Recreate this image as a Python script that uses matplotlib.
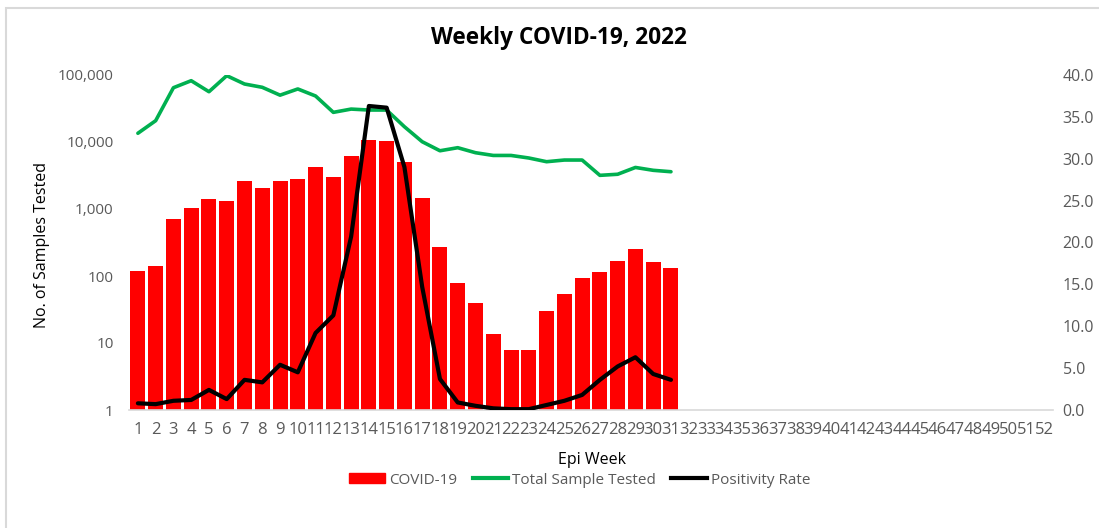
import matplotlib.pyplot as plt
import matplotlib.ticker as tck
from matplotlib.patches import Rectangle, Patch
from matplotlib.lines import Line2D

# Epi weeks shown on the axis (1..52), data only up to week 31
weeks = list(range(1, 53))
data_weeks = list(range(1, 32))

covid_cases = [120, 142, 710, 1035, 1410, 1315, 2590, 2090, 2590, 2800,
               4280, 3030, 6180, 10700, 10500, 4980, 1440, 274, 78, 39,
               13.6, 7.8, 7.8, 29.7, 53, 92, 116, 167, 256, 162, 130]

total_tested = [13500, 20800, 64600, 82200, 56300, 97700, 73400, 65500, 50000, 61900,
                48600, 27700, 31000, 30000, 30000, 16900, 10100, 7400, 8220, 6920,
                6300, 6300, 5770, 5080, 5380, 5380, 3180, 3300, 4170, 3780, 3600]

positivity = [0.8, 0.7, 1.1, 1.2, 2.4, 1.3, 3.6, 3.3, 5.4, 4.5,
              9.2, 11.3, 20.7, 36.3, 36.1, 29.0, 14.7, 3.7, 0.9, 0.5,
              0.2, 0.1, 0.1, 0.6, 1.1, 1.8, 3.6, 5.2, 6.3, 4.3, 3.6]

left_ticks = [1, 10, 100, 1000, 10000, 100000]
right_ticks = [0, 5, 10, 15, 20, 25, 30, 35, 40]

W, H = 1099, 528


def main():
    plt.rcParams['font.family'] = ['Open Sans', 'DejaVu Sans']
    grey = '#595959'

    fig = plt.figure(figsize=(W / 100, H / 100), dpi=100)
    ax = fig.add_axes([129 / W, (H - 410) / H, (1053 - 129) / W, (410 - 75) / H])

    # bars on log axis
    ax.bar(data_weeks, covid_cases, width=0.84, color='#FF0000', zorder=2)
    ax.plot(data_weeks, total_tested, color='#00B050', lw=2.6, zorder=3,
            solid_joinstyle='round', solid_capstyle='round')
    ax.set_yscale('log')
    ax.set_ylim(1, 100000)
    ax.set_xlim(0.5, 52.5)
    ax.set_yticks(left_ticks)
    ax.yaxis.set_major_formatter(tck.FuncFormatter(lambda v, p: '{:,.0f}'.format(v)))
    ax.yaxis.set_minor_locator(tck.NullLocator())
    ax.set_xticks(weeks)
    ax.set_xticklabels([str(w) for w in weeks])
    ax.tick_params(axis='both', length=0, labelcolor=grey)
    ax.tick_params(axis='y', pad=11, labelsize=11)
    ax.tick_params(axis='x', pad=9, labelsize=12)
    for s in ['top', 'right', 'left']:
        ax.spines[s].set_visible(False)
    ax.spines['bottom'].set_color('#D9D9D9')
    ax.spines['bottom'].set_linewidth(1.2)
    ax.patch.set_alpha(0)

    ax2 = ax.twinx()
    ax2.plot(data_weeks, positivity, color='black', lw=3.0, zorder=4,
             solid_joinstyle='round', solid_capstyle='round')
    ax2.set_ylim(0, 40)
    ax2.set_yticks(right_ticks)
    ax2.yaxis.set_major_formatter(tck.FormatStrFormatter('%.1f'))
    ax2.tick_params(axis='y', length=0, labelsize=11.5, labelcolor=grey, pad=7)
    for s in ['top', 'right', 'left', 'bottom']:
        ax2.spines[s].set_visible(False)

    fig.text(559 / W, 1 - 38 / H, 'Weekly COVID-19, 2022', ha='center', va='center',
             fontsize=16.3, fontweight='bold')
    fig.text(42 / W, 1 - 245 / H, 'No. of Samples Tested', ha='center', va='center',
             rotation=90, fontsize=11.5)
    fig.text(592 / W, 1 - 460 / H, 'Epi Week', ha='center', va='center', fontsize=11.5)

    handles = [Patch(color='#FF0000'),
               Line2D([], [], color='#00B050', lw=3),
               Line2D([], [], color='black', lw=3)]
    labels = ['COVID-19', 'Total Sample Tested', 'Positivity Rate']
    fig.legend(handles, labels, loc='center', bbox_to_anchor=(580 / W, 1 - 480 / H),
               ncol=3, frameon=False, fontsize=11, labelcolor=grey,
               handlelength=2.3, handletextpad=0.3, columnspacing=1.0, handleheight=0.6)

    # chart border
    fig.patches.append(Rectangle((6 / W, -0.1), 2, 1.1 - 8 / H, transform=fig.transFigure,
                                 fill=False, edgecolor='#D9D9D9', lw=1.5))

    fig.savefig('out.png', dpi=100)


if __name__ == "__main__":
    main()
